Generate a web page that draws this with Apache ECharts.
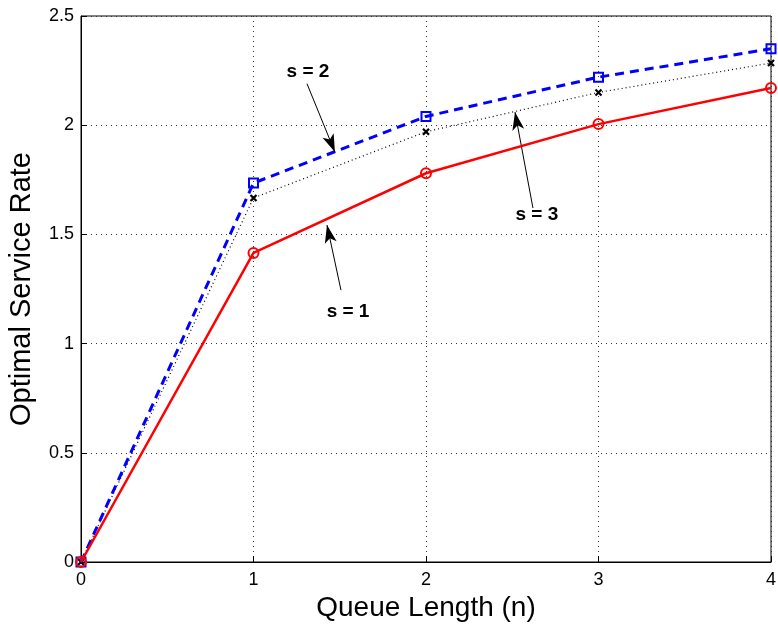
<!DOCTYPE html>
<html><head><meta charset="utf-8">
<script src="https://cdn.jsdelivr.net/npm/echarts@6/dist/echarts.min.js"></script>
<style>html,body{margin:0;padding:0;background:#fff}#c{width:778px;height:628px}</style>
</head><body><div id="c"></div>
<script>
const queueLength = [0, 1, 2, 3, 4];
const s1 = [0, 1.415, 1.78, 2.005, 2.17];
const s2 = [0, 1.735, 2.04, 2.22, 2.35];
const s3 = [0, 1.667, 1.97, 2.15, 2.285];
const yTicks = [0, 0.5, 1, 1.5, 2, 2.5];
// annotations: label, text position, arrow tail, arrow tip (data coords)
const annLabels = ['s = 2', 's = 1', 's = 3'];
const annText = [[1.316, 2.244], [1.548, 1.148], [2.643, 1.589]];
const annTail = [[1.31, 2.19], [1.507, 1.245], [2.62, 1.621]];
const annTip = [[1.472, 1.877], [1.426, 1.543], [2.516, 2.06]];

const FONT = 'Liberation Sans, Arial, sans-serif';
const pairs = a => a.map((v, i) => [queueLength[i], v]);
const crossPath = 'path://M0,0L10,10M10,0L0,10';

const chart = echarts.init(document.getElementById('c'));
const annSeries = {
  type: 'line', data: [], silent: true,
  markLine: {
    silent: true, symbol: ['none', 'arrow'], symbolSize: [9, 18],
    lineStyle: { color: '#000', width: 1, type: 'solid' },
    label: { show: false },
    data: annTail.map((t, i) => [{ coord: t }, { coord: annTip[i] }])
  },
  markPoint: {
    silent: true, symbolSize: 0,
    label: { show: true, position: 'inside', color: '#000', fontFamily: FONT, fontSize: 19, fontWeight: 'bold' },
    data: annText.map((c, i) => ({ coord: c, value: annLabels[i], label: { formatter: annLabels[i] } }))
  }
};
chart.setOption({
  animation: false,
  grid: { left: 81, top: 16, right: 7, bottom: 66, show: true, borderColor: '#000', borderWidth: 1,
    containLabel: false, outerBoundsMode: 'none' },
  xAxis: {
    type: 'value', min: 0, max: 4, interval: 1,
    name: 'Queue Length (n)', nameLocation: 'middle', nameGap: 30,
    nameTextStyle: { fontFamily: FONT, fontSize: 28, color: '#000' },
    axisLine: { show: true, lineStyle: { color: '#000', width: 1 } },
    axisTick: { show: true, inside: true, length: 6, lineStyle: { color: '#000' } },
    axisLabel: { color: '#000', fontFamily: FONT, fontSize: 18, margin: 9 },
    splitLine: { show: true, lineStyle: { color: '#333', type: [1, 4], width: 1 } }
  },
  yAxis: {
    type: 'value', min: 0, max: 2.5, interval: 0.5,
    name: 'Optimal Service Rate', nameLocation: 'middle', nameGap: 45,
    nameTextStyle: { fontFamily: FONT, fontSize: 29, color: '#000' },
    axisLine: { show: true, lineStyle: { color: '#000', width: 1 } },
    axisTick: { show: true, inside: true, length: 6, lineStyle: { color: '#000' } },
    axisLabel: { color: '#000', fontFamily: FONT, fontSize: 18, margin: 7,
      formatter: v => yTicks.includes(v) ? String(v) : '' },
    splitLine: { show: true, lineStyle: { color: '#333', type: [1, 4], width: 1 } }
  },
  series: [
    { name: 's = 3', type: 'line', data: pairs(s3), z: 3,
      lineStyle: { color: '#000', width: 1.2, type: [1, 3] },
      symbol: crossPath, symbolSize: 6, showSymbol: true,
      itemStyle: { color: '#000', borderColor: '#000', borderWidth: 2.2 } },
    { name: 's = 2', type: 'line', data: pairs(s2), z: 4,
      lineStyle: { color: '#0000ff', width: 3, type: [9, 6] },
      symbol: 'rect', symbolSize: 9,
      itemStyle: { color: 'rgba(0,0,0,0)', borderColor: '#0000ff', borderWidth: 2 } },
    { name: 's = 1', type: 'line', data: pairs(s1), z: 5,
      lineStyle: { color: '#ff0000', width: 2.5, type: 'solid' },
      symbol: 'circle', symbolSize: 10,
      itemStyle: { color: 'rgba(0,0,0,0)', borderColor: '#ff0000', borderWidth: 2 } },
    annSeries
  ]
});
</script></body></html>
